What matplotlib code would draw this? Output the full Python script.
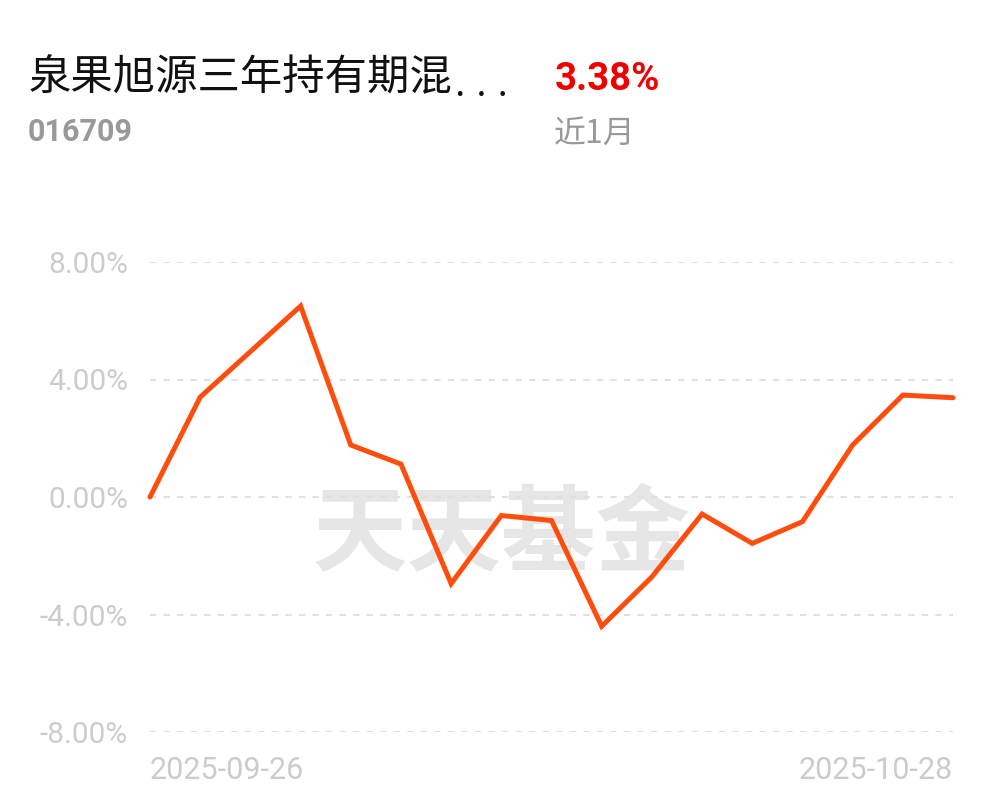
import numpy as np
import matplotlib
matplotlib.use("Agg")
import matplotlib.pyplot as plt

plt.rcParams['font.family'] = ['Roboto', 'Noto Sans CJK SC', 'DejaVu Sans']

# data
dates = ["2025-09-26", "2025-09-29", "2025-09-30", "2025-10-09", "2025-10-10",
         "2025-10-13", "2025-10-14", "2025-10-15", "2025-10-16", "2025-10-17",
         "2025-10-20", "2025-10-21", "2025-10-22", "2025-10-23", "2025-10-24",
         "2025-10-27", "2025-10-28"]
returns = [0.00, 3.40, 4.95, 6.50, 1.77, 1.12, -2.95, -0.63, -0.80, -4.40,
           -2.72, -0.58, -1.58, -0.84, 1.77, 3.47, 3.38]
yticks = [-8, -4, 0, 4, 8]

fund_name = "泉果旭源三年持有期混"
fund_code = "016709"
period_ret = "3.38%"
period_lbl = "近1月"

fig = plt.figure(figsize=(9.97, 8.02), dpi=100)
fig.patch.set_facecolor("white")

# header texts
cjk = ['Noto Sans CJK SC', 'DejaVu Sans']
fig.text(29 / 997, 1 - 78 / 802, fund_name, fontsize=30.5, color="#111111",
         va="center", ha="left", family=cjk)
fig.text(455 / 997, 1 - 84 / 802, ". . .", fontsize=30, color="#111111",
         va="center", ha="left", family=['Roboto'])
fig.text(555 / 997, 1 - 79 / 802, period_ret, fontsize=27.5, color="#f00000",
         fontweight="bold", va="center", ha="left", family=['Roboto'])
fig.text(28 / 997, 1 - 132 / 802, fund_code, fontsize=22, color="#999999",
         fontweight="bold", va="center", ha="left", family=['Roboto'])
fig.text(554 / 997, 1 - 134 / 802, period_lbl, fontsize=23, color="#999999",
         va="center", ha="left", family=cjk)

ax = fig.add_axes([150 / 997, 1 - 732 / 802, 803 / 997, 470 / 802])
x = np.arange(len(returns))

# watermark
ax.text(7.0, -1.35, "天天基金", fontsize=68, color="#e6e6e6", fontweight="bold",
        ha="center", va="center", family=['Noto Sans CJK SC'], zorder=0)

for t in yticks:
    ax.axhline(t, color="#e0e0e0", lw=1.5, ls=(0, (3, 3.5)), zorder=1)

ax.plot(x, returns, color="#ff4d0d", lw=3.6, solid_joinstyle="miter",
        solid_capstyle="round", clip_on=False, zorder=3)

ax.set_xlim(0, len(returns) - 1)
ax.set_ylim(-8, 8)
ax.set_yticks(yticks)
ax.set_yticklabels(["%.2f%%" % t for t in yticks])
ax.set_xticks([0, len(returns) - 1])
ax.set_xticklabels([dates[0], dates[-1]])
ax.get_xticklabels()[0].set_ha("left")
ax.get_xticklabels()[1].set_ha("right")
ax.tick_params(axis="y", length=0, pad=16, labelsize=21.5, labelcolor="#cccccc")
ax.tick_params(axis="x", length=0, pad=17, labelsize=22, labelcolor="#cccccc")
for s in ax.spines.values():
    s.set_visible(False)

fig.savefig("out.png", dpi=100, facecolor="white")
